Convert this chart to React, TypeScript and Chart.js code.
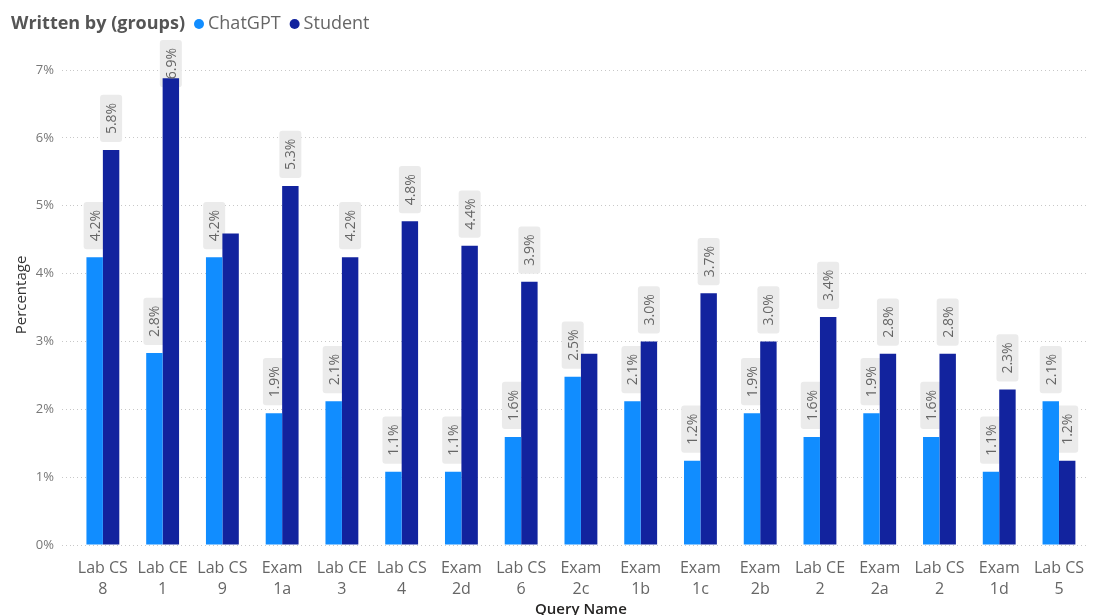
import React, { useEffect, useRef } from "react";
import { Chart, registerables } from "chart.js";

Chart.register(...registerables);

const categories: string[][] = [
  ["Lab CS", "8"], ["Lab CE", "1"], ["Lab CS", "9"], ["Exam", "1a"], ["Lab CE", "3"],
  ["Lab CS", "4"], ["Exam", "2d"], ["Lab CS", "6"], ["Exam", "2c"], ["Exam", "1b"],
  ["Exam", "1c"], ["Exam", "2b"], ["Lab CE", "2"], ["Exam", "2a"], ["Lab CS", "2"],
  ["Exam", "1d"], ["Lab CS", "5"],
];
const chatgptValues = [4.24, 2.83, 4.24, 1.94, 2.12, 1.08, 1.08, 1.59, 2.48, 2.12, 1.24, 1.94, 1.59, 1.94, 1.59, 1.08, 2.12];
const studentValues = [5.82, 6.88, 4.59, 5.29, 4.24, 4.77, 4.41, 3.88, 2.82, 3.0, 3.71, 3.0, 3.36, 2.82, 2.82, 2.29, 1.24];
const seriesNames = ["ChatGPT", "Student"];
const legendTitle = "Written by (groups)";
const yTitle = "Percentage";
const xTitle = "Query Name";
const yMax = 7;

const FONT = "'Open Sans', sans-serif";
const COLORS = ["#118DFF", "#12239E"];

type Box = { l: number; r: number; t: number; b: number; x: number; txt: string };

function computeBoxes(chart: any): Box[] {
  const ctx = chart.ctx;
  ctx.save();
  ctx.font = `14px ${FONT}`;
  const boxes: Box[] = [];
  chart.data.datasets.forEach((ds: any, di: number) => {
    const meta = chart.getDatasetMeta(di);
    meta.data.forEach((bar: any, i: number) => {
      const v = ds.data[i] as number;
      const txt = v.toFixed(1) + "%";
      const tw = ctx.measureText(txt).width;
      const h = tw + 16;
      const w = 22;
      let bottom = bar.y - 8;
      let top = bottom - h;
      if (top < 40) {
        top = 40;
        bottom = top + h;
      }
      const r: Box = { l: bar.x - w / 2, r: bar.x + w / 2, t: top, b: bottom, x: bar.x, txt };
      const hit = boxes.some((o) => !(r.r <= o.l || r.l >= o.r || r.b <= o.t || r.t >= o.b));
      if (!hit) boxes.push(r);
    });
  });
  ctx.restore();
  return boxes;
}

const labelPlugin = {
  id: "pbiLabels",
  beforeDatasetsDraw(chart: any) {
    const boxes = computeBoxes(chart);
    const ctx = chart.ctx;
    ctx.save();
    ctx.fillStyle = "#EBEBEB";
    boxes.forEach((b) => {
      ctx.beginPath();
      (ctx as any).roundRect(b.l, b.t, b.r - b.l, b.b - b.t, 3);
      ctx.fill();
    });
    ctx.restore();
  },
  afterDatasetsDraw(chart: any) {
    const boxes = computeBoxes(chart);
    const ctx = chart.ctx;
    ctx.save();
    ctx.font = `14px ${FONT}`;
    ctx.fillStyle = "#666666";
    ctx.textAlign = "center";
    ctx.textBaseline = "middle";
    boxes.forEach((b) => {
      ctx.save();
      ctx.translate(b.x, (b.t + b.b) / 2);
      ctx.rotate(-Math.PI / 2);
      ctx.fillText(b.txt, 0, 1);
      ctx.restore();
    });
    ctx.restore();
  },
  afterDraw(chart: any) {
    const ctx = chart.ctx;
    ctx.save();
    ctx.textBaseline = "middle";
    // legend
    ctx.font = `bold 18px ${FONT}`;
    ctx.fillStyle = "#555555";
    ctx.textAlign = "left";
    let x = 11;
    const y = 24;
    ctx.fillText(legendTitle, x, y);
    x += ctx.measureText(legendTitle).width + 14;
    ctx.font = `18px ${FONT}`;
    seriesNames.forEach((name, i) => {
      ctx.fillStyle = COLORS[i];
      ctx.beginPath();
      ctx.arc(x, y, 5, 0, Math.PI * 2);
      ctx.fill();
      ctx.fillStyle = "#666666";
      ctx.fillText(name, x + 9, y);
      x += 9 + ctx.measureText(name).width + 14;
    });
    // y title
    ctx.save();
    ctx.translate(22, 295);
    ctx.rotate(-Math.PI / 2);
    ctx.font = `15px ${FONT}`;
    ctx.fillStyle = "#333333";
    ctx.textAlign = "center";
    ctx.fillText(yTitle, 0, 0);
    ctx.restore();
    // x title
    ctx.font = `600 15px ${FONT}`;
    ctx.fillStyle = "#252423";
    ctx.textAlign = "center";
    const ca = chart.chartArea;
    ctx.fillText(xTitle, (ca.left + ca.right) / 2, 610);
    ctx.restore();
  },
};

export default function App() {
  const ref = useRef<HTMLCanvasElement | null>(null);
  useEffect(() => {
    if (!ref.current) return;
    const chart = new Chart(ref.current, {
      type: "bar",
      data: {
        labels: categories,
        datasets: [
          { label: seriesNames[0], data: chatgptValues, backgroundColor: COLORS[0], barPercentage: 1, categoryPercentage: 0.55 },
          { label: seriesNames[1], data: studentValues, backgroundColor: COLORS[1], barPercentage: 1, categoryPercentage: 0.55 },
        ],
      },
      options: {
        animation: false,
        responsive: true,
        maintainAspectRatio: false,
        layout: { padding: { top: 70, left: 0, right: -2, bottom: 0 } },
        plugins: { legend: { display: false }, tooltip: { enabled: false } },
        scales: {
          x: {
            grid: { display: false, drawTicks: false },
            border: { display: false },
            ticks: {
              color: "#666666",
              font: { family: FONT, size: 16, lineHeight: 1.3 },
              padding: 13,
              maxRotation: 0,
              autoSkip: false,
            },
            afterFit: (s: any) => { s.height = 70; },
          },
          y: {
            min: 0,
            max: yMax,
            border: { display: false, dash: [1, 3] },
            grid: {
              color: "#C8C8C8",
              lineWidth: 1,
              drawTicks: true,
              tickLength: 11,
              tickColor: "#C8C8C8",
              tickBorderDash: [1, 3],
            },
            ticks: {
              stepSize: 1,
              color: "#777777",
              font: { family: FONT, size: 13 },
              padding: 8,
              callback: (v: any) => v + "%",
            },
            afterFit: (s: any) => { s.width = 73; },
          },
        },
      },
      plugins: [labelPlugin],
    } as any);
    return () => chart.destroy();
  }, []);
  return (
    <div style={{ position: "absolute", left: 0, top: 0, width: 1097, height: 615, background: "#fff" }}>
      <canvas ref={ref} />
    </div>
  );
}
